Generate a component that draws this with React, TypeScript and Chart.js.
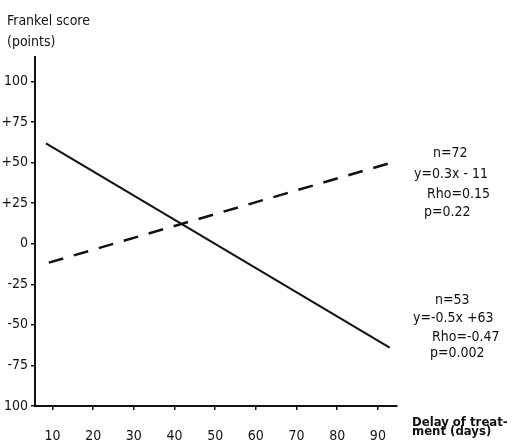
import React, { useEffect, useRef } from "react";
import { Chart, registerables } from "chart.js";

Chart.register(...registerables);

// Data
const solidX = [8.4, 92.9];
const solidY = [61.8, -64];
const dashedX = [9.1, 92.9];
const dashedY = [-11.7, 49.6];

const xTickValues = [10, 20, 30, 40, 50, 60, 70, 80, 90];
const yTickValues = [100, 75, 50, 25, 0, -25, -50, -75, -100];
const yTickLabels = ["100", "+75", "+50", "+25", "0", "-25", "-50", "-75", "100"];

const yAxisTitle = ["Frankel score", "(points)"];
const xAxisTitle = ["Delay of treat-", "ment (days)"];
const dashedStats = ["n=72", "y=0.3x - 11", "Rho=0.15", "p=0.22"];
const solidStats = ["n=53", "y=-0.5x +63", "Rho=-0.47", "p=0.002"];

const FONT = "'Liberation Sans Narrow', 'DejaVu Sans Condensed', 'Liberation Sans', sans-serif";
const INK = "#111";

const textPlugin = {
  id: "textPlugin",
  afterDraw(chart: any) {
    const ctx = chart.ctx;
    ctx.save();
    ctx.fillStyle = INK;
    ctx.font = `14px ${FONT}`;
    ctx.textAlign = "left";
    ctx.textBaseline = "alphabetic";
    ctx.fillText(yAxisTitle[0], 7, 25);
    ctx.fillText(yAxisTitle[1], 7, 46);
    const dx = [433, 414, 427, 424];
    const dy = [157, 178, 198, 216];
    dashedStats.forEach((t, i) => ctx.fillText(t, dx[i], dy[i]));
    const sx = [435, 413, 432, 430];
    const sy = [304, 322, 341, 357];
    solidStats.forEach((t, i) => ctx.fillText(t, sx[i], sy[i]));
    ctx.font = `bold 13px ${FONT}`;
    ctx.fillText(xAxisTitle[0], 412, 426);
    ctx.fillText(xAxisTitle[1], 412, 435);
    ctx.restore();
  },
};

export default function App() {
  const ref = useRef<HTMLCanvasElement>(null);
  useEffect(() => {
    if (!ref.current) return;
    const chart = new Chart(ref.current, {
      type: "scatter",
      data: {
        datasets: [
          {
            data: solidX.map((x, i) => ({ x, y: solidY[i] })),
            showLine: true,
            borderColor: INK,
            borderWidth: 2,
            pointRadius: 0,
          },
          {
            data: dashedX.map((x, i) => ({ x, y: dashedY[i] })),
            showLine: true,
            borderColor: INK,
            borderWidth: 2.5,
            borderDash: [15, 11],
            pointRadius: 0,
          },
        ],
      },
      options: {
        responsive: false,
        animation: false,
        layout: { padding: { top: 57, right: 119, left: 0, bottom: 0 } },
        plugins: { legend: { display: false }, tooltip: { enabled: false } },
        scales: {
          x: {
            type: "linear",
            min: 5.7,
            max: 94.7,
            afterBuildTicks: (s: any) => {
              s.ticks = xTickValues.map((v) => ({ value: v }));
            },
            afterFit: (s: any) => {
              s.height = 37;
            },
            grid: { drawOnChartArea: false, tickLength: 4, color: INK, lineWidth: 1.5 },
            border: { display: true, color: INK, width: 2 },
            ticks: {
              color: INK,
              padding: 18,
              maxRotation: 0,
              autoSkip: false,
              font: { family: FONT, size: 14 },
            },
          },
          y: {
            type: "linear",
            min: -100,
            max: 115,
            afterBuildTicks: (s: any) => {
              s.ticks = yTickValues.map((v) => ({ value: v }));
            },
            afterFit: (s: any) => {
              s.width = 35;
            },
            grid: { drawOnChartArea: false, tickLength: 4, color: INK, lineWidth: 1.5 },
            border: { display: true, color: INK, width: 2 },
            ticks: {
              color: INK,
              padding: 3,
              autoSkip: false,
              font: { family: FONT, size: 14 },
              callback: (v: any) => {
                const i = yTickValues.indexOf(Number(v));
                return i >= 0 ? yTickLabels[i] : "";
              },
            },
          },
        },
      },
      plugins: [textPlugin],
    });
    return () => chart.destroy();
  }, []);
  return (
    <div style={{ position: "absolute", left: 0, top: 0, width: 516, height: 443, background: "#fff" }}>
      <canvas ref={ref} width={516} height={443} style={{ display: "block" }} />
    </div>
  );
}
